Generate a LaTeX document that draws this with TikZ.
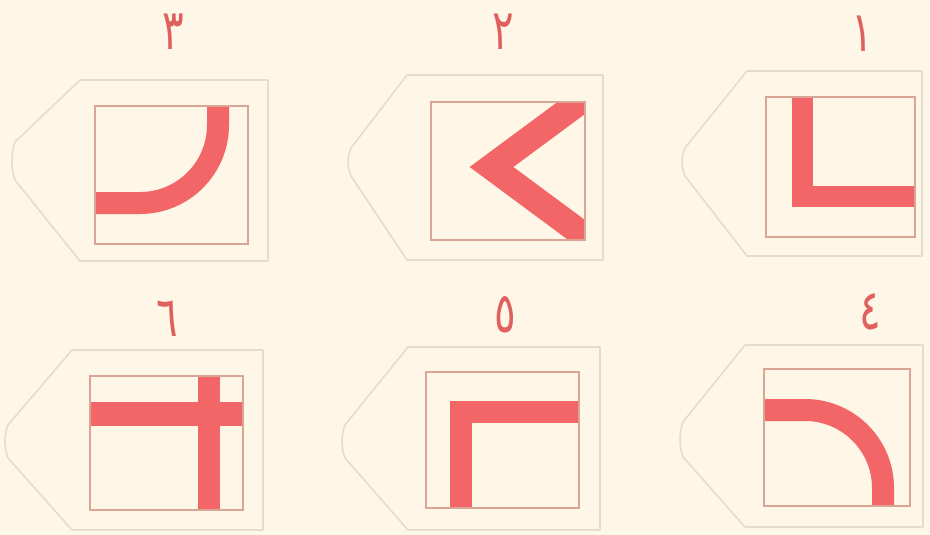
\documentclass[tikz,border=0pt]{standalone}
\usepackage{fontspec}
\newfontfamily\arabicfont[Script=Arabic]{DejaVu Sans}
\definecolor{bgcream}{HTML}{FEF6E6}
\definecolor{signred}{HTML}{F26668}
\definecolor{digitred}{HTML}{E0605E}
\definecolor{tagline}{HTML}{E4DCCD}
\definecolor{sqline}{HTML}{D9A594}
\tikzset{
  tagout/.style={draw=tagline, line width=1.6pt, line join=round},
  sqbox/.style={draw=sqline, line width=1.1pt},
  bar/.style={draw=signred, line width=22pt, line cap=butt, line join=miter},
  digit/.style={text=digitred, font=\arabicfont\fontsize{56}{60}\selectfont, inner sep=0pt, xscale=0.72}
}
% #1 L, #2 tip x, #3 R, #4 top, #5 bottom, #6 tip1, #7 tip2
\newcommand\tagoutline[7]{%
  \draw[tagout] (#1,#4) -- (#2+3,#6) .. controls (#2-1,#6+10) and (#2-1,#7-10) .. (#2+3,#7)
    -- (#1,#5) -- (#3,#5) -- (#3,#4) -- cycle;}
\begin{document}
\begin{tikzpicture}[x=1pt,y=-1pt]
\useasboundingbox[fill=bgcream] (0,0) rectangle (930,535);
% tag outlines
\tagoutline{80}{12}{268}{80}{261}{142}{180}
\tagoutline{407}{348}{603}{75}{260}{148}{176}
\tagoutline{747}{682}{922}{71}{256}{148}{176}
\tagoutline{72}{5}{263}{350}{530}{425}{458}
\tagoutline{408}{342}{600}{347}{530}{425}{458}
\tagoutline{745}{680}{923}{345}{527}{422}{457}
% sign 3: curve
\draw[bar, rounded corners=78pt] (95,203) -- (218,203) -- (218,106);
\draw[sqbox] (95,106) rectangle (248,244);
% sign 2: chevron
\begin{scope}
\clip (431,102) rectangle (585,240);
\draw[bar, line width=26pt] (491.5+0.804*200,167-0.595*200) -- (491.5,167) -- (491.5+0.804*200,167+0.595*200);
\end{scope}
\draw[sqbox] (431,102) rectangle (585,240);
% sign 1: L
\draw[bar, line width=21pt] (802,97) -- (802,196) -- (915,196);
\draw[sqbox] (766,97) rectangle (915,237);
% sign 6: cross
\draw[bar, line width=24pt] (90,414) -- (243,414);
\draw[bar] (209,376) -- (209,510);
\draw[sqbox] (90,376) rectangle (243,510);
% sign 5
\draw[bar] (461,508) -- (461,412) -- (579,412);
\draw[sqbox] (426,372) rectangle (579,508);
% sign 4
\draw[bar, rounded corners=78pt] (764,410) -- (883,410) -- (883,506);
\draw[sqbox] (764,369) rectangle (910,506);
% digits
\node[digit] (d3) at (173,32) {٣};
\node[digit] (d2) at (503,32) {٢};
\node[digit] (d1) at (862,34) {١};
\node[digit] (d6) at (167,319) {٦};
\node[digit] (d5) at (505,315) {٥};
\node[digit] (d4) at (870,312) {٤};
\end{tikzpicture}
\end{document}
